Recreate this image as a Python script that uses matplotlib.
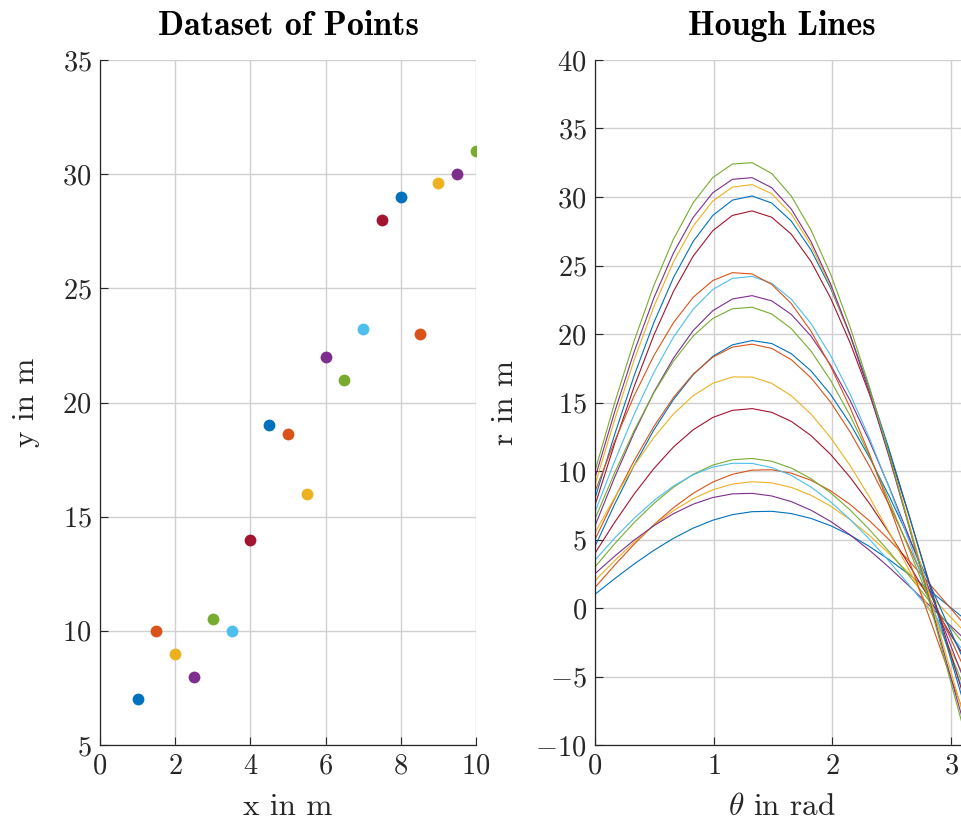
import numpy as np
import matplotlib
matplotlib.use("Agg")
import matplotlib.pyplot as plt

plt.rcParams['font.family'] = ['cmr10', 'DejaVu Serif']
plt.rcParams['mathtext.fontset'] = 'cm'
plt.rcParams['axes.formatter.use_mathtext'] = True

# points
px = [1, 1.5, 2, 2.5, 3, 3.5, 4, 4.5, 5, 5.5, 6, 6.5, 7, 7.5, 8, 8.5, 9, 9.5, 10]
py = [7, 10, 9, 8, 10.5, 10, 14, 19, 18.6, 16, 22, 21, 23.2, 28, 29, 23, 29.6, 30, 31]

colors = ['#0072BD', '#D95319', '#EDB120', '#7E2F8E', '#77AC30', '#4DBEEE', '#A2142F']
theta = np.linspace(0, np.pi, 20)

fig = plt.figure(figsize=(9.61, 8.25), dpi=100)
W, H = 961., 825.
ax1 = fig.add_axes([100/W, 1-745/H, 376/W, 685/H])
ax2 = fig.add_axes([595/W, 1-745/H, 373/W, 685/H])

dark = '#262626'
for ax in (ax1, ax2):
    ax.grid(True, color='#d0d0d0', lw=1.0)
    ax.set_axisbelow(True)
    for s in ['top', 'right']:
        ax.spines[s].set_visible(False)
    for s in ['left', 'bottom']:
        ax.spines[s].set_color(dark)
        ax.spines[s].set_linewidth(0.9)
    ax.tick_params(direction='in', length=6, width=0.8, colors=dark,
                   labelsize=20.5, pad=6)

for i in range(len(px)):
    ax1.plot(px[i], py[i], 'o', ms=8.5, color=colors[i % 7], mec='none')
ax1.set_xlim(0, 10)
ax1.set_ylim(5, 35)
ax1.set_xticks(range(0, 11, 2))
ax1.set_yticks(range(5, 36, 5))
ax1.set_xlabel('x in m', fontsize=22.5, color=dark, labelpad=10)
ax1.set_ylabel('y in m', fontsize=22.5, color=dark, labelpad=16)
ax1.set_title('Dataset of Points', fontsize=24.5, family='cmb10', pad=18)

for i in range(len(px)):
    r = px[i]*np.cos(theta) + py[i]*np.sin(theta)
    ax2.plot(theta, r, color=colors[i % 7], lw=0.8)
ax2.set_xlim(0, np.pi)
ax2.set_ylim(-10, 40)
ax2.set_xticks([0, 1, 2, 3])
ax2.set_yticks(range(-10, 41, 5))
ax2.set_xlabel(r'$\theta$ in rad', fontsize=22.5, color=dark, labelpad=10)
ax2.set_ylabel('r in m', fontsize=22.5, color=dark, labelpad=12)
ax2.set_title('Hough Lines', fontsize=24.5, family='cmb10', pad=18)

fig.savefig('out.png', dpi=100)
